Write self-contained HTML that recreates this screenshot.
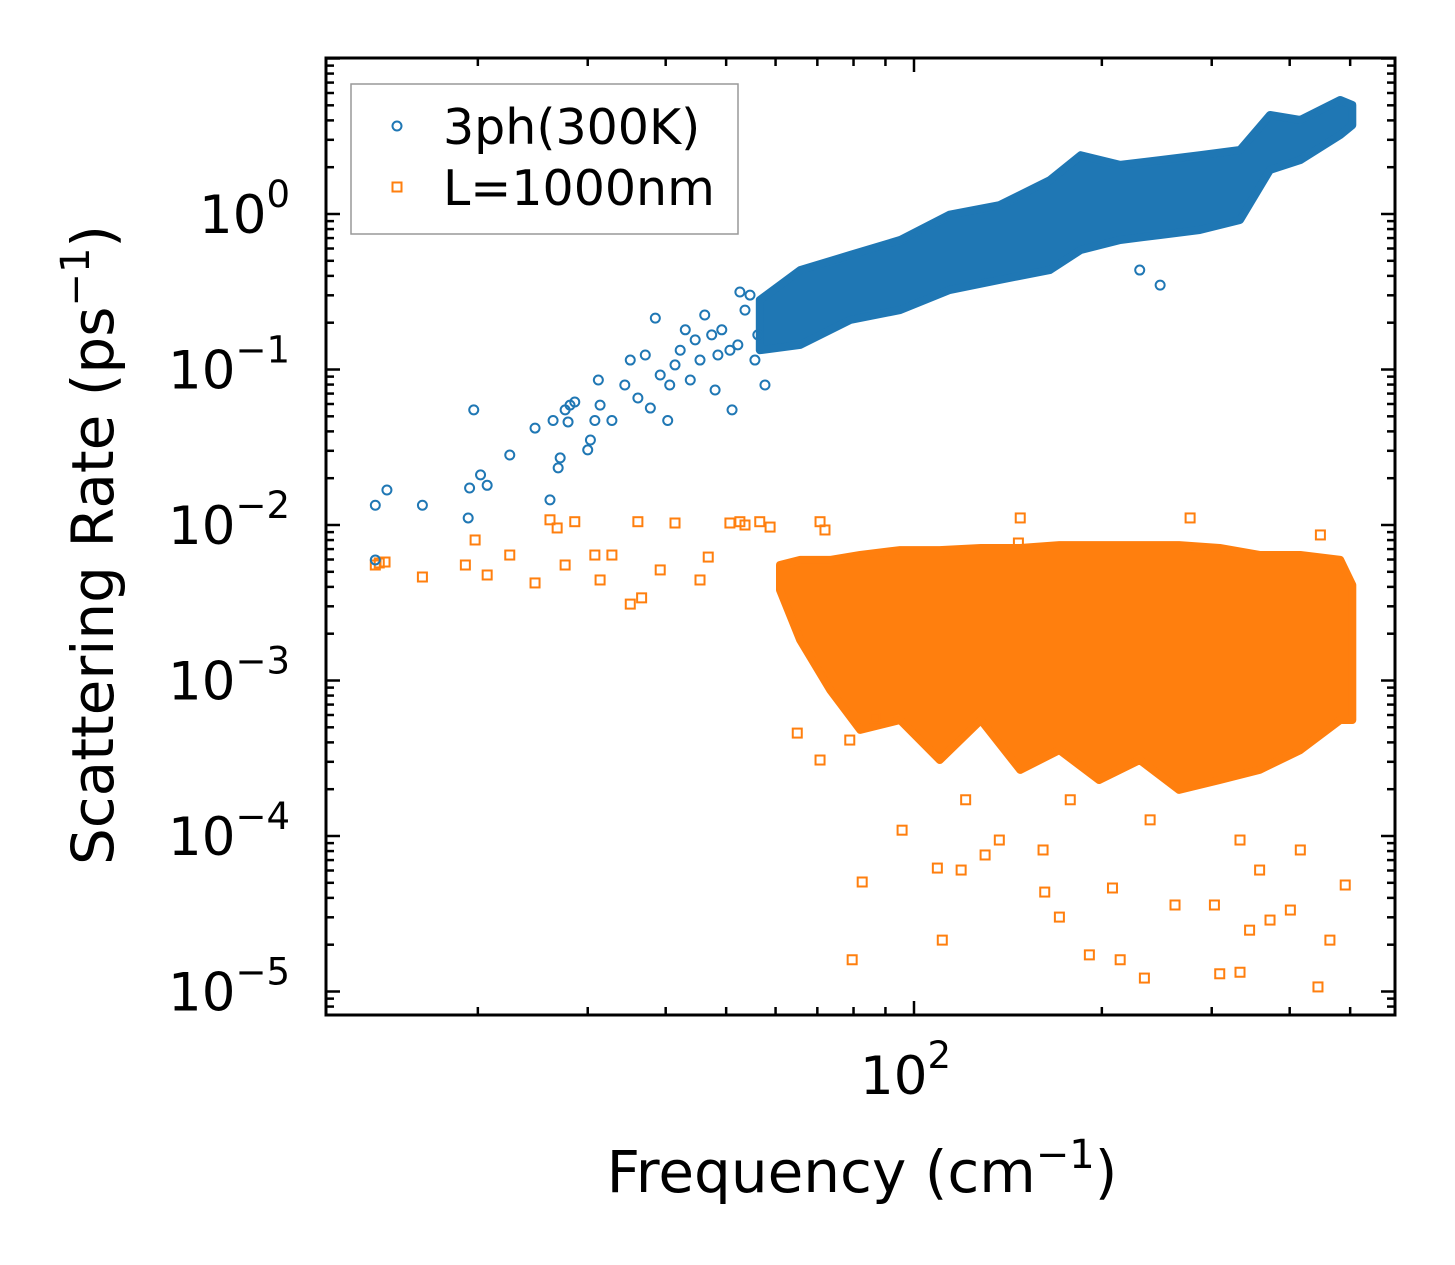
<!DOCTYPE html>
<html><head><meta charset="utf-8"><style>
body{margin:0;background:#fff;}
svg{display:block;font-family:"DejaVu Sans","Liberation Sans",sans-serif;}
</style></head><body>
<svg id="chart" width="1455" height="1265" viewBox="0 0 1455 1265" xmlns="http://www.w3.org/2000/svg">
<rect width="1455" height="1265" fill="#fff"/>
<g id="marks"></g>
<g id="axes"></g>
<text x="862" y="1192" font-size="58" text-anchor="middle">Frequency (cm<tspan dy="-24" font-size="40">−1</tspan><tspan dy="24">)</tspan></text>
<text transform="translate(113,545) rotate(-90)" font-size="58" text-anchor="middle">Scattering Rate (ps<tspan dy="-24" font-size="40">−1</tspan><tspan dy="24">)</tspan></text>
<g>
<rect x="351" y="84" width="387" height="150" fill="#fff" fill-opacity="0.8" stroke="#999" stroke-width="1.5"/>
<g>
<circle cx="397" cy="126" r="4.5" fill="none" stroke="#1f77b4" stroke-width="2"/>
<text x="443" y="144" font-size="49">3ph(300K)</text></g>
<g>
<rect x="392.5" y="182.5" width="9" height="9" fill="none" stroke="#ff7f0e" stroke-width="2"/>
<text x="443" y="205" font-size="49">L=1000nm</text></g>
</g>
</svg>
<script>
// ---- data ----
const blueBandFreq = [56.6,65.7,79,95,114,137,165,185,214,248,287,333,372,416,482,504];
const blueBandHigh = [0.28,0.436,0.545,0.68,0.99,1.14,1.65,2.39,2.07,2.22,2.39,2.58,4.33,4.02,5.41,5.02];
const blueBandLow  = [0.133,0.144,0.208,0.241,0.324,0.377,0.436,0.587,0.68,0.733,0.789,0.915,1.92,2.22,3.22,3.73];
const blueFreq = [13.7,13.7,14.3,16.3,19.3,19.4,19.7,20.2,20.7,22.5,24.7,26.1,26.4,26.9,27.1,27.6,27.9,28.1,28.6,30.0,30.3,30.8,31.2,31.4,32.8,34.4,35.1,36.1,37.1,37.8,38.5,39.2,40.3,40.6,41.4,42.2,43.0,43.8,44.6,45.4,46.2,47.4,48.0,48.5,49.2,50.7,51.1,52.2,52.6,53.6,54.6,55.6,56.2,57.7,248,230];
const blueRate = [0.00596,0.0134,0.0168,0.0134,0.0111,0.0173,0.055,0.021,0.018,0.0282,0.042,0.0145,0.047,0.0233,0.027,0.055,0.046,0.059,0.0618,0.0304,0.0352,0.047,0.0856,0.059,0.047,0.0795,0.115,0.0656,0.124,0.0565,0.214,0.0922,0.047,0.0795,0.107,0.133,0.18,0.0856,0.155,0.115,0.224,0.167,0.0738,0.124,0.18,0.133,0.055,0.144,0.315,0.241,0.301,0.115,0.167,0.0795,0.349,0.436];
const orangeBandFreq = [61,65.7,73.4,82,95,110,128,148,171,198,230,266,309,358,416,482,504];
const orangeBandHigh = [0.00553,0.00596,0.00596,0.00641,0.0069,0.0069,0.00711,0.00711,0.00743,0.00743,0.00743,0.00743,0.00711,0.00641,0.00641,0.00596,0.00411];
const orangeBandLow  = [0.00382,0.00182,0.000869,0.000481,0.000557,0.000308,0.000557,0.000266,0.000357,0.000229,0.000308,0.000198,0.000229,0.000266,0.000357,0.000557,0.000557];
const orangeFreq = [13.7,13.9,14.2,16.3,19.1,19.8,20.7,22.5,24.7,26.1,26.8,27.6,28.6,30.8,31.4,32.8,35.1,36.1,36.6,39.2,41.4,45.4,46.8,50.7,52.6,53.6,56.6,58.8,65.0,70.7,72.0,79.6,82.6,86.6,95.7,109,111,119,147,148,161,162,171,191,214,208,234,262,277,303,309,333,345,358,372,401,444,464,491,448,416,137,130,121,178,239,333,70.7,78.9];
const orangeRate = [0.00553,0.0057,0.00578,0.00463,0.00553,0.00801,0.00477,0.00641,0.00424,0.0108,0.00957,0.00553,0.0105,0.00641,0.00443,0.00641,0.0031,0.0105,0.0034,0.00514,0.0103,0.00443,0.00622,0.0103,0.0105,0.01,0.0105,0.0097,0.000459,0.0105,0.00929,0.000016,0.0000506,0.000574,0.000109,0.0000622,0.0000214,0.0000604,0.00766,0.0111,0.0000813,0.0000436,0.0000301,0.0000172,0.000016,0.0000463,0.0000122,0.000036,0.0111,0.000036,0.000013,0.0000133,0.0000248,0.0000604,0.0000288,0.0000334,0.0000107,0.0000214,0.0000484,0.00863,0.0000813,0.0000942,0.0000755,0.000171,0.000171,0.000127,0.0000942,0.000308,0.000414];
const xTickLabels = ["10","2"];
const yTickExp = [0,-1,-2,-3,-4,-5];

// ---- axes ----
const L=326,R=1395,T=58,B=1015;
const X = f => 914 + 624*(Math.log10(f)-2);
const Y = v => 214 - 155.5*Math.log10(v);
const NS='http://www.w3.org/2000/svg';
const marks=document.getElementById('marks');
const axes=document.getElementById('axes');
function mk(tag,attrs,parent){const e=document.createElementNS(NS,tag);for(const k in attrs)e.setAttribute(k,attrs[k]);parent.appendChild(e);return e;}

const clip=mk('clipPath',{id:'clip'},marks);
mk('rect',{x:L,y:T,width:R-L,height:B-T},clip);
const gm=mk('g',{'clip-path':'url(#clip)'},marks);

function band(freq,hi,lo,color,name){
  let pts=[];
  for(let i=0;i<freq.length;i++)pts.push(X(freq[i]).toFixed(1)+','+Y(hi[i]).toFixed(1));
  for(let i=freq.length-1;i>=0;i--)pts.push(X(freq[i]).toFixed(1)+','+Y(lo[i]).toFixed(1));
  const p=mk('polygon',{points:pts.join(' '),fill:color,stroke:color,'stroke-width':8,'stroke-linejoin':'round'},gm);
  
  
}
band(orangeBandFreq,orangeBandHigh,orangeBandLow,'#ff7f0e','orange-dense-band');
for(let i=0;i<orangeFreq.length;i++){
  const r=mk('rect',{x:X(orangeFreq[i])-4.5,y:Y(orangeRate[i])-4.5,width:9,height:9,fill:'none',stroke:'#ff7f0e','stroke-width':2},gm);
  
  
}
band(blueBandFreq,blueBandHigh,blueBandLow,'#1f77b4','blue-dense-band');
for(let i=0;i<blueFreq.length;i++){
  const c=mk('circle',{cx:X(blueFreq[i]),cy:Y(blueRate[i]),r:4.5,fill:'none',stroke:'#1f77b4','stroke-width':2},gm);
  
  
}

// ticks
function line(x1,y1,x2,y2,w){mk('line',{x1,y1,x2,y2,stroke:'#000','stroke-width':w},axes);}
for(let d=-6;d<=1;d++){
  for(let m=1;m<=9;m++){
    const v=m*Math.pow(10,d);const y=Y(v);
    if(y<T||y>B)continue;
    const len=m===1?14:8;
    line(L,y,L+len,y,2.5);line(R,y,R-len,y,2.5);
  }
}
for(let d=1;d<=2;d++){
  for(let m=1;m<=9;m++){
    const x=X(m*Math.pow(10,d));
    if(x<L||x>R)continue;
    const len=m===1?14:8;
    line(x,B,x,B-len,2.5);line(x,T,x,T+len,2.5);
  }
}
mk('rect',{x:L,y:T,width:R-L,height:B-T,fill:'none',stroke:'#000','stroke-width':3},axes);

// tick labels
for(const e of yTickExp){
  const t=mk('text',{x:290,y:Y(Math.pow(10,e))+19,'font-size':53,'text-anchor':'end'},axes);
  
  
  t.textContent='10';
  const s=mk('tspan',{dy:-26,'font-size':37},t);
  s.textContent=e===0?'0':'−'+(-e);
}
const xt=mk('text',{x:X(100)-54,y:1094,'font-size':53},axes);


xt.textContent=xTickLabels[0];
const xs=mk('tspan',{dy:-26,'font-size':37},xt);xs.textContent=xTickLabels[1];
</script>
</body></html>
